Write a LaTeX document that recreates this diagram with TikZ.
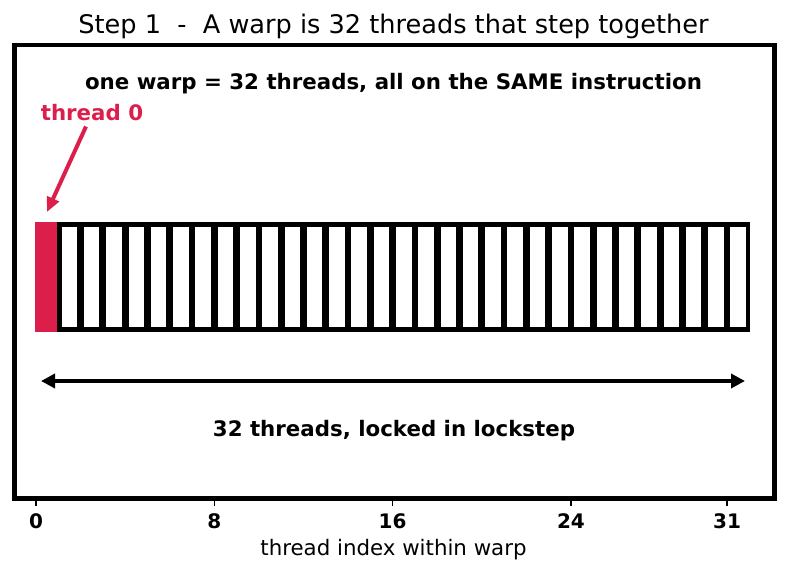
\documentclass[tikz,border=0pt]{standalone}
\usepackage{fontspec}
\setmainfont{DejaVu Sans}
\usepackage{tikz}
\usetikzlibrary{arrows.meta,calc}
\definecolor{threadred}{RGB}{220,30,75}

\begin{document}
\begin{tikzpicture}[x=0.75pt,y=-0.75pt,
    cellbox/.style={draw=black, fill=white, line width=3.4pt, minimum width=15.05pt, minimum height=79pt, inner sep=0pt, outer sep=0pt},
    redcell/.style={cellbox, draw=threadred, fill=threadred},
    boldlabel/.style={font=\fontsize{16}{19}\selectfont\bfseries, anchor=base},
    ticklabel/.style={font=\fontsize{15}{18}\selectfont\bfseries, anchor=base}]
    % Figure size (px)
    \useasboundingbox (0,0) rectangle (787,573);

    % Title
    \node[anchor=base, font=\fontsize{19.2}{22}\selectfont] (title) at (393.5,34) {Step 1\ \ -\ \ A warp is 32 threads that step together};

    % Axes frame
    \draw[line width=3.4pt] (14.3,45.2) rectangle (774.5,498.3);

    % Headline inside the frame
    \node[boldlabel] (oneWarp) at (393.5,89.5) {one warp = 32 threads, all on the SAME instruction};

    % The 32 lanes of the warp, lane 0 in red
    \node[redcell] (c0) at (47.15,277) {};
    \foreach \i in {1,...,31}
        \node[cellbox] (c\i) at ({36+22.29*(\i+0.5)},277) {};

    % Pointer to lane 0
    \node[boldlabel, text=threadred] (thr0) at (92,120.5) {thread 0};
    \coordinate (tip0) at (47,212);
    \draw[threadred, line width=3pt, -{Triangle[length=11pt,width=9.5pt]}] ($(thr0.south)+(-6,1)$) -- (tip0);

    % Width of the warp
    \coordinate (spanL) at (41,381);
    \coordinate (spanR) at (745,381);
    \draw[line width=3pt, {Triangle[length=10.5pt,width=10.5pt]}-{Triangle[length=10.5pt,width=10.5pt]}] (spanL) -- (spanR);
    \node[boldlabel] (lockstep) at (394,436) {32 threads, locked in lockstep};

    % x ticks
    \foreach \t in {0,8,16,24,31} {
        \draw[line width=1.2pt] ({36+22.29*\t},500.5) -- ({36+22.29*\t},506);
        \node[ticklabel] (tick\t) at ({36+22.29*\t},528.5) {\t};
    }
    \node[anchor=base, font=\fontsize{16}{19}\selectfont] (xlab) at (393.5,555) {thread index within warp};
\end{tikzpicture}
\end{document}
